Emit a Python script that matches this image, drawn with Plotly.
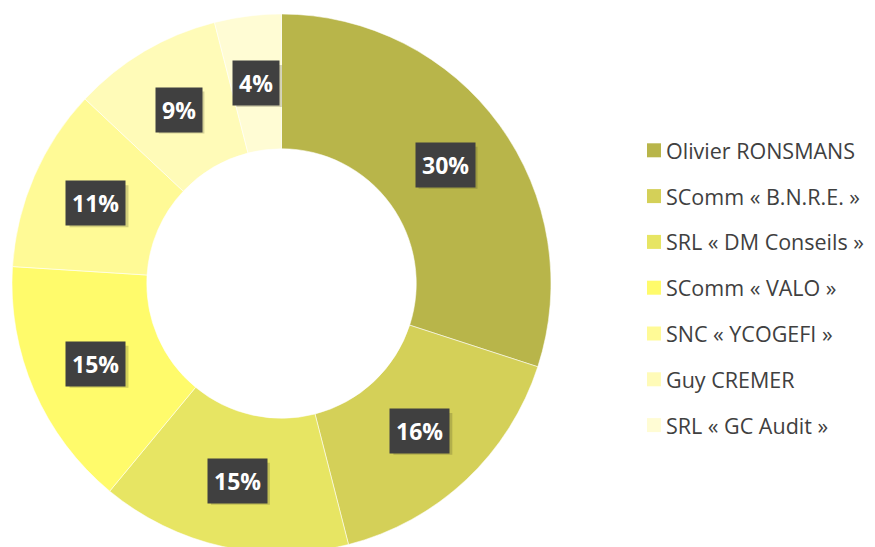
import math
import plotly.graph_objects as go

# ---- data ----
labels = [
    "Olivier RONSMANS",
    "SComm « B.N.R.E. »",
    "SRL « DM Conseils »",
    "SComm « VALO »",
    "SNC « YCOGEFI »",
    "Guy CREMER",
    "SRL « GC Audit »",
]
values = [30, 16, 15, 15, 11, 9, 4]
colors = ["#B8B54A", "#D4D058", "#E7E563", "#FFFB6B", "#FFFA96", "#FFFBB8", "#FFFCD4"]

# ---- layout constants ----
W, H = 875, 547
OFF = 8  # default page margin of the html body
hole = 0.5
# pie bounding box in page pixels: left 12, right 551, top 14, bottom 553
dom_x = [(12 - OFF) / W, (551 - OFF) / W]
dom_y = [1 - (553 - OFF) / H, 1 - (14 - OFF) / H]

fig = go.Figure(
    go.Pie(
        labels=labels,
        values=values,
        hole=hole,
        sort=False,
        direction="clockwise",
        rotation=0,
        marker=dict(colors=colors, line=dict(color="rgba(255,255,255,0.55)", width=1)),
        textinfo="none",
        hoverinfo="label+percent",
        showlegend=False,
        domain=dict(x=dom_x, y=dom_y),
    )
)

# pie geometry (derived from the domain)
R = min((dom_x[1] - dom_x[0]) * W, (dom_y[1] - dom_y[0]) * H) / 2
cx_p = (dom_x[0] + dom_x[1]) / 2
cy_p = (dom_y[0] + dom_y[1]) / 2
r_lab = R * (1 + hole) / 2

total = sum(values)
annotations = []
shapes = []
lab_size = 23
pad = 6
cum = 0
for v in values:
    theta = 2 * math.pi * (cum + v / 2) / total
    cum += v
    x = cx_p + r_lab * math.sin(theta) / W
    y = cy_p + r_lab * math.cos(theta) / H
    txt = f"{round(100 * v / total)}%"
    # soft shadow behind the label box (approximate box size from the text)
    bw = (len(txt) - 1) * 0.58 * lab_size + 0.88 * lab_size + 2 * pad
    bh = 1.3 * lab_size + 2 * pad
    sx, sy = 3 / W, 3 / H
    shapes.append(
        dict(
            type="rect", xref="paper", yref="paper", layer="above",
            x0=x - bw / 2 / W + sx, x1=x + bw / 2 / W + sx,
            y0=y - bh / 2 / H - sy, y1=y + bh / 2 / H - sy,
            fillcolor="rgba(60,60,30,0.22)", line=dict(width=0),
        )
    )
    annotations.append(
        dict(
            x=x, y=y, xref="paper", yref="paper", text=txt, showarrow=False,
            font=dict(family="Open Sans, Arial, sans-serif", size=lab_size,
                      color="white", weight="bold"),
            bgcolor="#404040", borderpad=pad,
            xanchor="center", yanchor="middle",
        )
    )

# custom legend (spacing as in the reference)
leg_x0 = 647 - OFF
leg_y0 = 150.3 - OFF
leg_dy = 45.8
sq = 14
for i, (lab, col) in enumerate(zip(labels, colors)):
    yc = leg_y0 + i * leg_dy
    shapes.append(
        dict(
            type="rect", xref="paper", yref="paper",
            x0=leg_x0 / W, x1=(leg_x0 + sq) / W,
            y0=1 - (yc + sq / 2) / H, y1=1 - (yc - sq / 2) / H,
            fillcolor=col, line=dict(width=0),
        )
    )
    annotations.append(
        dict(
            x=(leg_x0 + sq + 3) / W, y=1 - yc / H, xref="paper", yref="paper",
            text=lab, showarrow=False,
            font=dict(family="Open Sans, Arial, sans-serif", size=21.5, color="#404040"),
            xanchor="left", yanchor="middle",
        )
    )

fig.update_layout(
    width=W, height=H,
    margin=dict(l=0, r=0, t=0, b=0),
    paper_bgcolor="white",
    plot_bgcolor="white",
    annotations=annotations,
    shapes=shapes,
)

fig.write_html("out.html")
